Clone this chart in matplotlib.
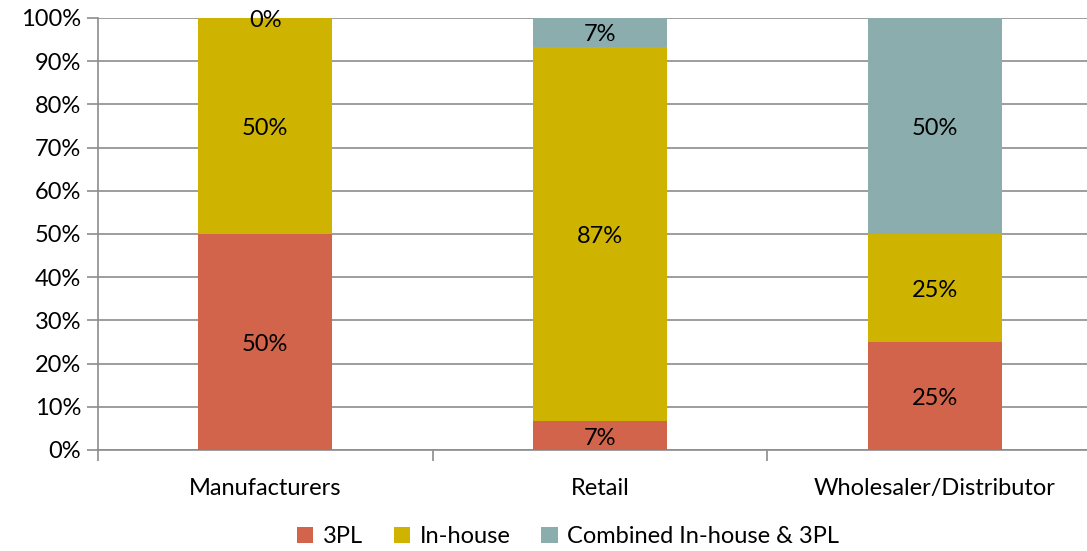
import numpy as np
import matplotlib.pyplot as plt

plt.rcParams['font.family'] = ['Lato', 'DejaVu Sans']

categories = ['Manufacturers', 'Retail', 'Wholesaler/Distributor']
series_names = ['3PL', 'In-house', 'Combined In-house & 3PL']
tpl = [50, 6.67, 25]
in_house = [50, 86.67, 25]
combined = [0, 6.67, 50]
colors = ['#D1644B', '#CEB400', '#8BADAD']

fig = plt.figure(figsize=(10.87, 5.51), dpi=100)
ax = fig.add_axes([98 / 1087, 101 / 551, 1004 / 1087, 432 / 551])

x = np.arange(len(categories))
bottom = np.zeros(len(categories))
for name, vals, c in zip(series_names, [tpl, in_house, combined], colors):
    vals = np.array(vals)
    bars = ax.bar(x, vals, 0.4, bottom=bottom, color=c, label=name, zorder=3)
    for xi, b, v in zip(x, bottom, vals):
        ax.text(xi, b + v / 2 - 0.6, '{:.0f}%'.format(v), ha='center', va='center',
                fontsize=17, color='black', zorder=4)
    bottom += vals

ax.set_xlim(-0.5, 2.5)
ax.set_ylim(0, 100)
ax.set_yticks(np.arange(0, 101, 10))
ax.set_yticklabels(['{}%'.format(v) for v in range(0, 101, 10)], fontsize=17)
ax.yaxis.grid(True, color='#8C8C8C', linewidth=1.2, zorder=0)

# category labels in the middle, tick marks on the boundaries
ax.set_xticks(x)
ax.set_xticklabels(categories, fontsize=17)
ax.tick_params(axis='x', length=0, pad=20)
ax.set_xticks([-0.5, 0.5, 1.5, 2.5], minor=True)
ax.tick_params(axis='x', which='minor', length=8, color='#8C8C8C', width=1.2)
ax.tick_params(axis='y', length=8, color='#8C8C8C', width=1.2, pad=4)

for s in ['top', 'right']:
    ax.spines[s].set_visible(False)
for s in ['left', 'bottom']:
    ax.spines[s].set_color('#8C8C8C')
    ax.spines[s].set_linewidth(1.2)

fig.legend(loc='lower center', bbox_to_anchor=(568 / 1087, -0.032), ncol=3,
           frameon=False, fontsize=17, handlelength=0.7, handleheight=0.7,
           columnspacing=1.3, handletextpad=0.4)

fig.savefig('out.png', dpi=100)
